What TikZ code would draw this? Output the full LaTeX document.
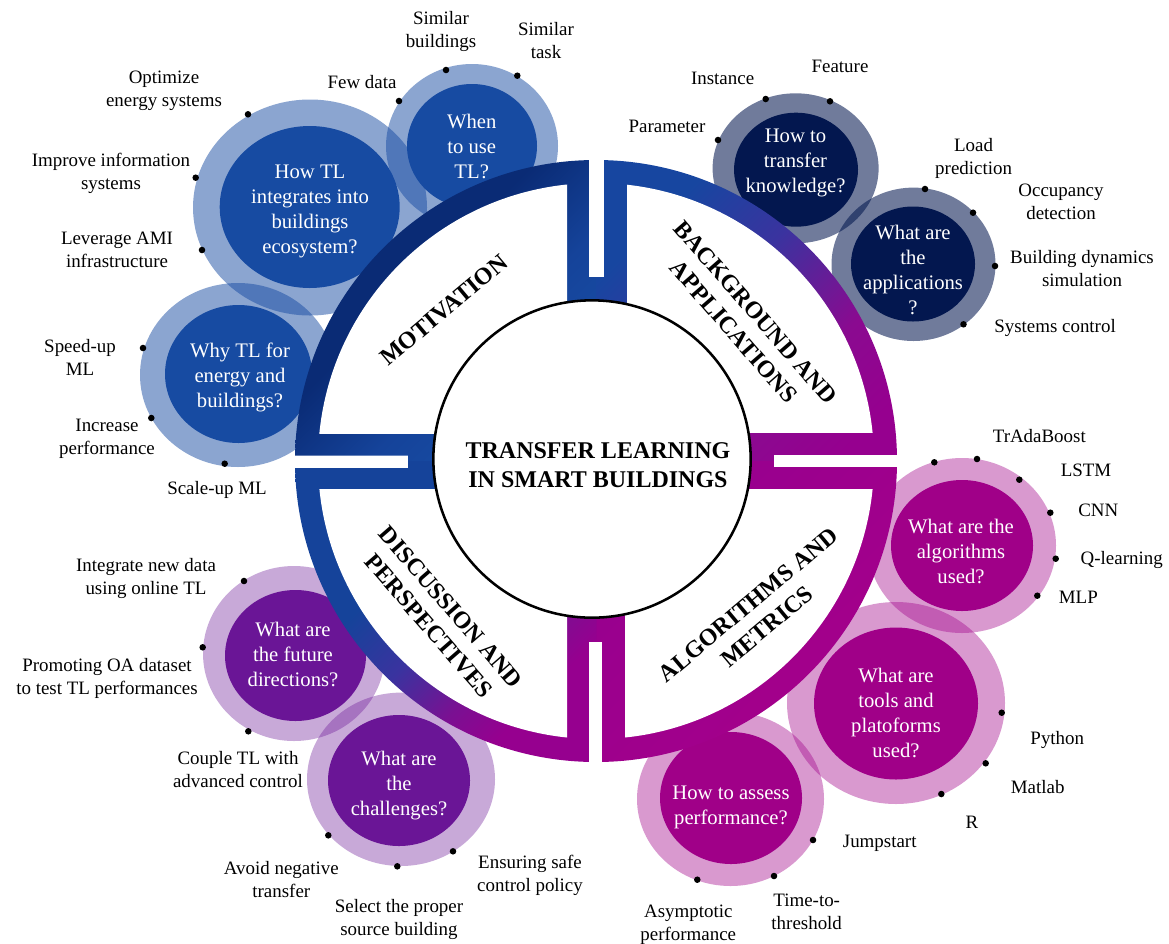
\documentclass[tikz,border=0pt]{standalone}
\usepackage{fontspec}
\setmainfont{Liberation Serif}
\usetikzlibrary{shapes.geometric}
\definecolor{cBlue}{HTML}{174BA2}
\definecolor{cNavy}{HTML}{03174F}
\definecolor{cMag}{HTML}{A00088}
\definecolor{cPur}{HTML}{6A1596}
\definecolor{rA}{HTML}{0A2B75}
\definecolor{rB}{HTML}{15439A}
\definecolor{rC}{HTML}{174BA2}
\definecolor{rD}{HTML}{1746A0}
\definecolor{rE}{HTML}{3A339F}
\definecolor{rF}{HTML}{8A0A90}
\definecolor{rG}{HTML}{96008F}
\definecolor{rH}{HTML}{A6008A}
\definecolor{rI}{HTML}{7A1092}
\pgfdeclareverticalshading{ringTL}{100bp}{color(0bp)=(rC); color(30bp)=(rC); color(41.5bp)=(rB); color(57bp)=(rA); color(100bp)=(rA)}
\pgfdeclareverticalshading{ringTR}{100bp}{color(0bp)=(rG); color(21.7bp)=(rG); color(35.9bp)=(rF); color(55bp)=(rE); color(71.2bp)=(rD); color(100bp)=(rD)}
\pgfdeclareverticalshading{ringBR}{100bp}{color(0bp)=(rH); color(25bp)=(rH); color(75bp)=(rG); color(100bp)=(rG)}
\pgfdeclareverticalshading{ringBL}{100bp}{color(0bp)=(rG); color(28.8bp)=(rG); color(37.3bp)=(rI); color(48.6bp)=(rE); color(60.6bp)=(rB); color(100bp)=(rB)}
\tikzset{
  halobub/.style n args={4}{ellipse,inner sep=0pt,draw=none,fill=#3,fill opacity=#4,minimum width=#1*0.75pt,minimum height=#2*0.75pt},
  corebub/.style n args={3}{ellipse,inner sep=0pt,draw=none,fill=#3,minimum width=#1*0.75pt,minimum height=#2*0.75pt},
  dotmark/.style={circle,fill=black,inner sep=0pt,minimum size=4.9pt},
  lbl/.style={align=center,inner sep=0pt,text=black,font=\fontsize{14.2}{17.25}\selectfont},
  bubtext/.style={align=center,inner sep=0pt,text=white,font=\fontsize{15.5}{18.75}\selectfont},
  ringtext/.style={align=center,inner sep=0pt,text=black,font=\fontsize{18}{21.75}\selectfont\bfseries},
}
\newcommand{\ringpart}[3]{%
  \begin{scope}\clip #1 -- cycle; \clip (596,461) circle (301);
    \shade[shading=#2,shading angle=45] #3;
  \end{scope}}
\newcommand{\whitepart}[1]{%
  \begin{scope}\clip #1; \fill[white] (596,461) circle (278);\end{scope}}
\begin{document}
\begin{tikzpicture}[x=0.75pt,y=-0.75pt]
\useasboundingbox (0,0) rectangle (1169,943);
% halos
\node[halobub={234}{216}{cBlue}{0.5}] (h1) at (310,207.5) {};
\node[halobub={172}{164}{cBlue}{0.5}] (h2) at (472,146) {};
\node[halobub={196}{184}{cBlue}{0.5}] (h3) at (238,375) {};
\node[halobub={166}{150}{cNavy}{0.57}] (h4) at (795.6,168.3) {};
\node[halobub={164}{153.4}{cNavy}{0.57}] (h5) at (913.5,264.3) {};
\node[halobub={188}{175}{cMag}{0.4}] (h6) at (962,545.5) {};
\node[halobub={218}{202}{cMag}{0.4}] (h7) at (896,703) {};
\node[halobub={187}{174}{cMag}{0.4}] (h8) at (730.5,799) {};
\node[halobub={182}{175}{cPur}{0.37}] (h9) at (294,653.5) {};
\node[halobub={188}{173.4}{cPur}{0.37}] (h10) at (401,779.3) {};
% cores
\node[corebub={180}{162}{cBlue}] (c1) at (309.7,207) {};
\node[corebub={130}{124}{cBlue}] (c2) at (472,146) {};
\node[corebub={147}{138}{cBlue}] (c3) at (238.5,374) {};
\node[corebub={124}{114}{cNavy}] (c4) at (796,169.7) {};
\node[corebub={124}{115}{cNavy}] (c5) at (913,264) {};
\node[corebub={142}{131}{cMag}] (c6) at (962,545.5) {};
\node[corebub={164}{152}{cMag}] (c7) at (896,703.5) {};
\node[corebub={142}{132}{cMag}] (c8) at (731,798) {};
\node[corebub={141}{131}{cPur}] (c9) at (295.5,655.5) {};
\node[corebub={142}{131}{cPur}] (c10) at (399,780.5) {};
% ring
\ringpart{(295,150) -- (589,150) -- (589,276.5) -- (596.5,276.5) -- (596.5,461) -- (408,461) -- (408,455.6) -- (295,455.6)}{ringTL}{(295,160) rectangle (597,461)}
\ringpart{(604,150) -- (900,150) -- (900,455) -- (774,455) -- (774,461) -- (596.5,461) -- (596.5,276.5) -- (604,276.5)}{ringTR}{(596,160) rectangle (897,461)}
\ringpart{(900,770) -- (602,770) -- (602,642) -- (596.5,642) -- (596.5,461) -- (774,461) -- (774,467) -- (900,467)}{ringBR}{(596,461) rectangle (897,762)}
\ringpart{(295,467.5) -- (408,467.5) -- (408,461) -- (596.5,461) -- (596.5,642) -- (589,642) -- (589,770) -- (295,770)}{ringBL}{(295,461) rectangle (597,762)}
\fill[white] (295,455.6) rectangle (408,467.5);
\fill[white] (774,455) rectangle (897.5,467);
\fill[white] (589,150) rectangle (604,276.5);
\fill[white] (589,642) rectangle (602,770);
\whitepart{(300,170) rectangle (567,433)}
\whitepart{(627,170) rectangle (890,432)}
\whitepart{(625,489) rectangle (890,750)}
\whitepart{(300,489) rectangle (567,750)}
\node[circle,fill=white,draw=black,line width=1.9pt,inner sep=0pt,minimum size=238pt] (hub) at (592,459) {};
\node[ringtext] (title) at (598,465) {TRANSFER LEARNING\\IN SMART BUILDINGS};
\node[ringtext,rotate=40] (rt1) at (444,310) {MOTIVATION};
\node[ringtext,rotate=-49] (rt2) at (744.7,322) {BACKGROUND AND\\APPLICATIONS};
\node[ringtext,rotate=40] (rt3) at (757.6,615.6) {ALGORITHMS AND\\METRICS};
\node[ringtext,rotate=-49] (rt4) at (440,616.6) {DISCUSSION AND\\PERSPECTIVES};
% bubble texts
\node[bubtext] (b1) at (310,211.5) {How TL\\integrates into\\buildings\\ecosystem?};
\node[bubtext] (b2) at (471.7,146) {When\\to use\\TL?};
\node[bubtext] (b3) at (240,377) {Why TL for\\energy and\\buildings?};
\node[bubtext] (b4) at (795.5,163) {How to\\transfer\\knowledge?};
\node[bubtext] (b5) at (913,270) {What are\\the\\applications\\?};
\node[bubtext] (b6) at (961,551) {What are the\\algorithms\\used?};
\node[bubtext] (b7) at (896,712.5) {What are\\tools and\\platoforms\\used?};
\node[bubtext] (b8) at (731,807.5) {How to assess\\performance?};
\node[bubtext] (b9) at (293,654) {What are\\the future\\directions?};
\node[bubtext] (b10) at (399,785.2) {What are\\the\\challenges?};
% dots
\foreach \n/\x/\y in {a1/248/114.3,a2/195.7/177.7,a3/202/250,a4/399/101,a5/446/70,a6/517.3/75.7,a7/143/348,a8/151.3/418,a9/224.7/463.7,
 a10/765.7/99,a11/830/101.3,a12/718/140,a13/925/189,a14/973/212.7,a15/995/266,a16/963.5/324.3,
 a17/934.3/462.3,a18/977/459,a19/1019.3/479.7,a20/1050.3/512.7,a21/1055.7/558.7,a22/1037.3/595.7,
 a23/1001.7/712.7,a24/985.7/763.3,a25/941.3/794,a26/813/840,a27/774/876,a28/697.3/879.7,
 a29/244/581,a30/202.7/647.3,a31/248.3/731.3,a32/328.3/835.3,a33/397.3/866.3,a34/453/851.3}
  {\node[dotmark] (\n) at (\x,\y) {};}
% labels
\node[lbl] (l1) at (164,90.5) {Optimize\\energy systems};
\node[lbl] (l2) at (111,173.5) {Improve information\\systems};
\node[lbl] (l3) at (117,249.5) {Leverage AMI\\infrastructure};
\node[lbl] (l4) at (362,82) {Few data};
\node[lbl] (l5) at (441,31) {Similar\\buildings};
\node[lbl] (l6) at (546,41) {Similar\\task};
\node[lbl] (l7) at (80,357.5) {Speed-up\\ML};
\node[lbl] (l8) at (107,438.5) {Increase\\performance};
\node[lbl] (l9) at (217,490) {Scale-up ML};
\node[lbl] (l10) at (722.6,78.6) {Instance};
\node[lbl] (l11) at (840,66) {Feature};
\node[lbl] (l12) at (667,126.5) {Parameter};
\node[lbl] (l13) at (973.6,158.5) {Load\\prediction};
\node[lbl] (l14) at (1061,202) {Occupancy\\detection};
\node[lbl] (l15) at (1082,269) {Building dynamics\\simulation};
\node[lbl] (l16) at (1055,328) {Systems control};
\node[lbl] (l17) at (1039.3,435.7) {TrAdaBoost};
\node[lbl] (l18) at (1086,470) {LSTM};
\node[lbl] (l19) at (1098.3,510.3) {CNN};
\node[lbl] (l20) at (1121.7,560) {Q-learning};
\node[lbl] (l21) at (1078.3,597) {MLP};
\node[lbl] (l22) at (1057.3,740) {Python};
\node[lbl] (l23) at (1037.7,787) {Matlab};
\node[lbl] (l24) at (972,822) {R};
\node[lbl] (l25) at (879.7,843) {Jumpstart};
\node[lbl] (l26) at (806.7,911.5) {Time-to-\\threshold};
\node[lbl] (l27) at (688.3,925) {Asymptotic\\performance};
\node[lbl] (l28) at (146,578.5) {Integrate new data\\using online TL};
\node[lbl] (l29) at (107,678.5) {Promoting OA dataset\\to test TL performances};
\node[lbl] (l30) at (238,770) {Couple TL with\\advanced control};
\node[lbl] (l31) at (281.3,879.5) {Avoid negative\\transfer};
\node[lbl] (l32) at (399,919) {Select the proper\\source building};
\node[lbl] (l33) at (530,875) {Ensuring safe\\control policy};
\end{tikzpicture}
\end{document}
